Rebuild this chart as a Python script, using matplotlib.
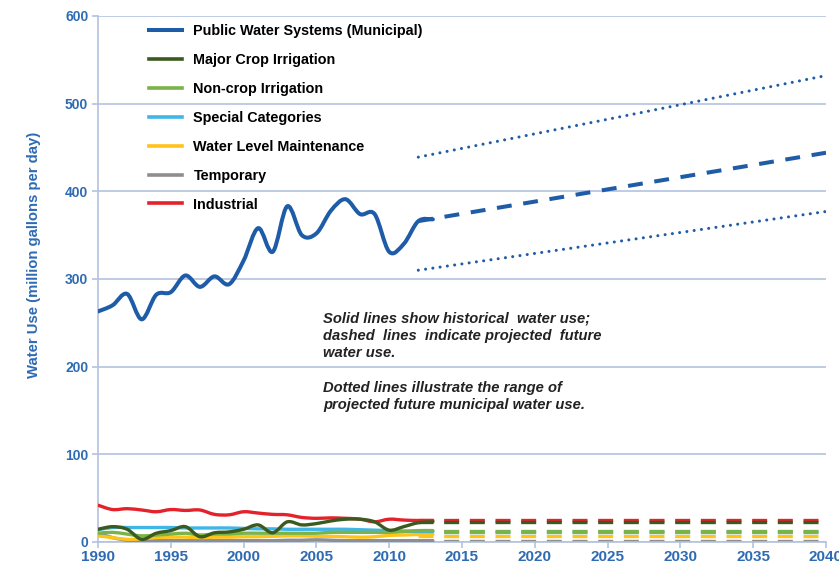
import matplotlib
matplotlib.use("Agg")
import matplotlib.pyplot as plt
import numpy as np
from matplotlib.path import Path
from matplotlib.patches import PathPatch
from matplotlib.lines import Line2D

plt.rcParams['font.family'] = ['Liberation Sans', 'DejaVu Sans']

# historical water use, 1990-2013 (million gallons per day)
years = list(range(1990, 2014))
public = [263, 270, 283, 254, 282, 285, 304, 291, 303, 294, 321, 358, 331, 383,
          350, 352, 378, 391, 374, 374, 331, 340, 366, 368]
major_crop = [14.5, 17.5, 14.5, 3, 10, 13, 17.5, 6, 10.5, 11.5, 14.5, 19.5, 10.5, 23,
              19.5, 21, 24, 26, 26, 23, 13.5, 17.5, 22, 23]
non_crop = [10, 11, 9, 7, 8, 9, 10, 8, 9, 9, 10, 10, 10, 10,
            10, 10, 11, 11, 11, 11, 11, 12, 13, 13]
special = [14, 16.5, 16.5, 16.5, 16.5, 16.5, 16, 16, 16, 16, 15.5, 15, 15, 14.5,
           14.5, 14.5, 14.5, 14.5, 14, 13.5, 13, 12.5, 12, 12]
water_level = [7, 5, 3, 3.5, 5, 5.5, 5.5, 5, 5.5, 5.5, 6, 6, 6.5, 7,
               7, 6.5, 6.5, 6, 5.5, 6, 7.5, 8, 8.5, 9]
temporary = [10, 5, 2, 1.5, 1.5, 1.5, 1.5, 1.5, 1.5, 1.5, 1.5, 1.5, 1.5, 2,
             2, 2.5, 2, 1.5, 1.5, 1.5, 1.5, 1.5, 1.5, 1.5]
industrial = [42, 37, 38, 36.5, 34.5, 37, 36, 36.5, 31.5, 31, 34.5, 33, 31.5, 31,
              28, 27, 27.5, 27, 26, 23, 26, 25, 24.5, 24.5]

# projections 2012-2040
proj_years = [2012, 2040]
public_proj = [366, 444]
public_high = [439, 532]
public_low = [310, 377]
flat_proj = {'major_crop': 23, 'non_crop': 13, 'special': 11,
             'water_level': 7, 'temporary': 1, 'industrial': 25}

labels = ['Public Water Systems (Municipal)', 'Major Crop Irrigation',
          'Non-crop Irrigation', 'Special Categories', 'Water Level Maintenance',
          'Temporary', 'Industrial']
colors = ['#1f5ca8', '#3b5a1f', '#7ab348', '#3fb6e6', '#ffc31a', '#8e8e8e', '#e3222b']
keys = [None, 'major_crop', 'non_crop', 'special', 'water_level', 'temporary', 'industrial']
series = [public, major_crop, non_crop, special, water_level, temporary, industrial]

grid_c = '#b4c2df'
text_c = '#2e6bb3'


def smooth_path(xs, ys):
    # Excel-style smoothed line as bezier segments through the points
    pts = np.column_stack([xs, ys]).astype(float)
    n = len(pts)
    verts = [pts[0]]
    codes = [Path.MOVETO]
    for i in range(n - 1):
        p0 = pts[i - 1] if i > 0 else pts[i]
        p1 = pts[i]
        p2 = pts[i + 1]
        p3 = pts[i + 2] if i + 2 < n else pts[i + 1]
        c1 = p1 + (p2 - p0) / 6.0
        c2 = p2 - (p3 - p1) / 6.0
        verts += [c1, c2, p2]
        codes += [Path.CURVE4] * 3
    return Path(verts, codes)


fig = plt.figure(figsize=(8.39, 5.67), dpi=100)
ax = fig.add_axes([0.1168, 0.0441, 0.8677, 0.9277])

for i in range(len(series) - 1, -1, -1):
    lw = 2.9 if i == 0 else 2.4
    z = 10 if i == 0 else 3 + (len(series) - i) * 0.1
    patch = PathPatch(smooth_path(years, series[i]), facecolor='none',
                      edgecolor=colors[i], lw=lw, capstyle='round',
                      joinstyle='round', zorder=z)
    ax.add_patch(patch)
    if keys[i] is not None:
        lvl = flat_proj[keys[i]]
        ax.plot(proj_years, [lvl, lvl], color=colors[i], lw=2.4,
                dashes=(4.5, 3.2), zorder=z - 1)

ax.plot(proj_years, public_proj, color=colors[0], lw=2.9, dashes=(3.7, 2.9), zorder=9)
ax.plot(proj_years, public_high, color=colors[0], lw=2.2, dashes=(0.01, 2.39),
        dash_capstyle='round', zorder=9)
ax.plot(proj_years, public_low, color=colors[0], lw=2.2, dashes=(0.01, 2.39),
        dash_capstyle='round', zorder=9)

ax.set_xlim(1990, 2040)
ax.set_ylim(0, 600)
ax.set_xticks(range(1990, 2041, 5))
ax.set_yticks(range(0, 601, 100))
ax.grid(axis='y', color=grid_c, lw=1.2, zorder=0)
ax.set_axisbelow(True)
for s in ['top', 'right']:
    ax.spines[s].set_visible(False)
for s in ['left', 'bottom']:
    ax.spines[s].set_color(grid_c)
    ax.spines[s].set_linewidth(1.2)
ax.tick_params(axis='both', direction='out', length=4, width=1.2, color=grid_c,
               labelcolor=text_c)
ax.tick_params(axis='y', labelsize=10, pad=3)
ax.tick_params(axis='x', labelsize=11, pad=2)
for t in ax.get_xticklabels() + ax.get_yticklabels():
    t.set_fontweight('bold')

ax.set_ylabel('Water Use (million gallons per day)', color=text_c,
              fontsize=10.7, fontweight='bold')
ax.yaxis.set_label_coords(-0.078, 0.546)

handles = [Line2D([], [], color=c, lw=2.9 if j == 0 else 2.6) for j, c in enumerate(colors)]
leg = ax.legend(handles, labels, loc='upper left', bbox_to_anchor=(0.052, 1.009),
                frameon=False, handlelength=2.27, handletextpad=0.82,
                labelspacing=1.03, prop={'weight': 'bold', 'size': 10.4})

ax.text(2005.45, 263, 'Solid lines show historical  water use;\n'
        'dashed  lines  indicate projected  future\nwater use.',
        fontsize=10.6, fontweight='bold', style='italic', color='#222222',
        ha='left', va='top', linespacing=1.3)
ax.text(2005.45, 184, 'Dotted lines illustrate the range of\n'
        'projected future municipal water use.',
        fontsize=10.6, fontweight='bold', style='italic', color='#222222',
        ha='left', va='top', linespacing=1.3)

fig.savefig('out.png', dpi=100)
